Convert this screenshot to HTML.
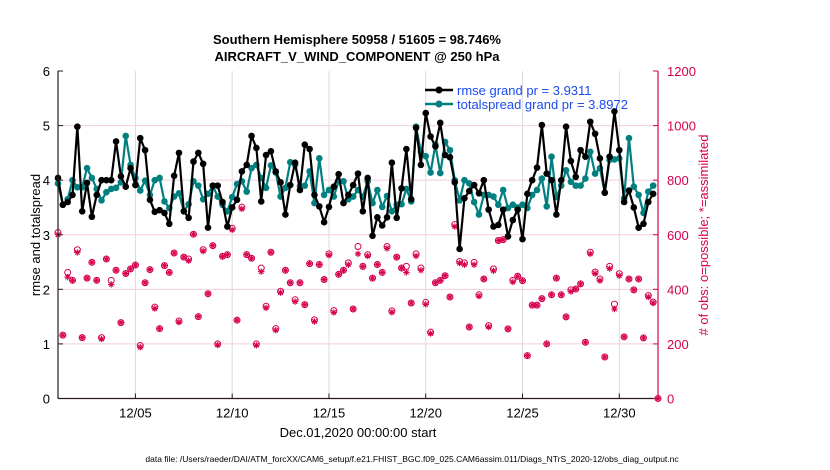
<!DOCTYPE html>
<html><head><meta charset="utf-8"><style>
html,body{margin:0;padding:0;background:#fff;}
svg{display:block;font-family:"Liberation Sans",sans-serif;}
</style></head><body>
<svg id="chart" width="830" height="470" viewBox="0 0 830 470" xmlns="http://www.w3.org/2000/svg">
<text x="357" y="44" text-anchor="middle" font-size="13" font-weight="bold">Southern Hemisphere 50958 / 51605 = 98.746%</text>
<text x="357" y="61" text-anchor="middle" font-size="13" font-weight="bold">AIRCRAFT_V_WIND_COMPONENT @ 250 hPa</text>
<g id="grid"></g>
<g id="marks"></g>
<g id="axes"></g>
<text transform="translate(40,235) rotate(-90)" text-anchor="middle" font-size="13">rmse and totalspread</text>
<text transform="translate(708,235) rotate(-90)" text-anchor="middle" font-size="13" fill="#d6004f"># of obs: o=possible; *=assimilated</text>
<text x="358" y="437" text-anchor="middle" font-size="13">Dec.01,2020 00:00:00 start</text>
<text x="412" y="462" text-anchor="middle" font-size="8.5">data file: /Users/raeder/DAI/ATM_forcXX/CAM6_setup/f.e21.FHIST_BGC.f09_025.CAM6assim.011/Diags_NTrS_2020-12/obs_diag_output.nc</text>
<g>
<line x1="425" y1="90" x2="453" y2="90" stroke="#000" stroke-width="2.5"/>
<circle cx="439" cy="90" r="3.5" fill="#000"/>
<text x="457" y="95" font-size="13" fill="#1a4cf0">rmse grand pr = 3.9311</text>
<line x1="425" y1="104" x2="453" y2="104" stroke="#008080" stroke-width="2.5"/>
<circle cx="439" cy="104" r="3.5" fill="#008080"/>
<text x="457" y="109" font-size="13" fill="#1a4cf0">totalspread grand pr = 3.8972</text>
</g>
</svg>
<script>
const rmse=[4.04,3.55,3.6,3.73,4.98,3.43,3.95,3.33,3.73,4.0,4.0,4.0,4.71,4.07,3.88,4.22,3.91,4.77,4.55,3.64,3.42,3.45,3.40,3.2,4.08,4.5,3.43,3.31,4.34,4.5,4.3,3.13,3.9,3.9,3.6,3.15,3.5,3.64,4.16,4.28,4.81,
4.59,3.61,4.46,4.53,4.16,3.96,3.37,3.91,4.32,3.82,4.65,4.57,3.73,3.52,3.23,3.51,3.88,4.11,3.58,3.73,3.91,4.12,3.43,4.04,2.98,3.32,3.17,3.32,4.32,3.31,3.85,4.57,3.65,4.96,4.28,5.23,4.8,4.62,5.05,4.46,4.42,3.96,2.74,
3.67,3.8,3.91,3.76,4.0,3.46,3.15,3.18,3.46,2.97,3.27,3.46,2.92,3.75,4.0,4.23,5.01,4.12,4.0,3.37,4.0,4.98,4.35,4.06,4.55,4.43,5.07,4.85,4.4,3.77,4.43,5.26,4.55,3.6,3.81,3.5,3.13,3.2,3.6,3.75];
const spread=[3.94,3.55,3.65,4.0,3.87,3.87,4.22,4.04,3.84,3.63,3.78,3.84,3.86,3.96,4.81,4.28,4.04,3.81,3.99,3.73,4.0,4.04,3.61,3.49,3.7,3.76,3.43,3.56,3.98,3.9,3.65,3.75,3.9,3.7,3.55,3.43,3.69,3.93,3.98,3.79,4.22,
4.28,4.04,3.86,4.27,4.14,3.7,3.86,4.33,4.28,3.89,3.9,4.16,3.58,4.4,3.73,3.82,3.7,3.98,3.98,3.65,3.7,3.82,3.7,3.98,3.58,3.82,3.51,3.71,3.43,3.55,3.56,3.84,3.61,4.98,4.52,4.44,4.14,4.65,4.13,4.7,4.55,4.0,3.63,
4.0,3.94,3.6,3.37,3.73,3.73,3.7,3.55,3.82,3.49,3.55,3.5,3.55,3.49,3.73,3.82,4.03,3.52,4.43,3.69,3.9,4.18,3.97,3.9,3.9,4.03,4.52,4.12,4.22,3.77,4.37,4.38,4.4,3.67,4.77,3.88,3.73,3.4,3.79,3.9];
const obsPossible=[608,232,462,433,545,223,441,499,433,223,511,433,470,278,458,475,489,194,424,472,335,256,487,462,533,284,518,511,602,300,545,384,560,200,521,527,624,287,701,527,514,
200,478,338,536,256,393,470,424,362,424,344,494,288,491,436,530,322,455,470,497,328,557,484,527,441,491,462,557,321,518,478,484,350,530,478,352,243,424,433,450,372,637,502,
497,262,499,380,438,267,475,579,582,255,433,448,432,157,342,342,366,200,380,441,380,299,398,401,420,206,536,463,438,152,484,346,457,226,438,398,438,222,377,353,0];
const obsAssim=[600,232,445,433,535,223,441,499,433,218,511,418,470,278,458,475,489,188,424,472,330,256,487,462,533,280,518,505,602,300,540,384,560,196,521,527,618,287,695,527,514,
195,465,332,536,250,388,470,424,355,424,344,494,282,491,436,525,315,455,470,490,328,530,484,522,441,491,462,550,316,518,478,462,350,522,470,345,238,424,433,450,372,630,496,
490,262,490,375,438,262,468,579,582,255,427,448,432,157,342,342,366,200,380,441,380,299,392,401,420,206,530,458,432,152,476,328,450,226,438,398,438,222,372,350,0];
const xTickDays=[4,9,14,19,24,29];
const xTickLabels=["12/05","12/10","12/15","12/20","12/25","12/30"];
const yLeftTicks=[0,1,2,3,4,5,6];
const yRightTicks=[0,200,400,600,800,1000,1200];

const NS="http://www.w3.org/2000/svg";
const X0=58,X1=658,YB=398.5,YT=71;
const xs=d=>X0+(d/31)*(X1-X0);
const yL=v=>YB-(v/6)*(YB-YT);
const yR=v=>YB-(v/1200)*(YB-YT);
const PINK="#d6004f";
function mk(tag,attrs,parent){const e=document.createElementNS(NS,tag);for(const k in attrs)e.setAttribute(k,attrs[k]);parent.appendChild(e);return e;}
const grid=document.getElementById('grid'),marks=document.getElementById('marks'),axes=document.getElementById('axes');

yRightTicks.forEach((t,i)=>{if(i===0||i===yRightTicks.length-1)return;
 const l=mk('line',{x1:X0,x2:X1,y1:yR(t),y2:yR(t),stroke:'#f3cddd','stroke-width':1},grid);
 
 });
xTickDays.forEach(d=>{
 const l=mk('line',{x1:xs(d),x2:xs(d),y1:YT,y2:YB,stroke:'#dcdcdc','stroke-width':1},grid);
 
 });

obsPossible.forEach((v,i)=>{const x=xs(i*0.25),y=yR(v);
 const c=mk('circle',{cx:x,cy:y,r:3,fill:'none',stroke:PINK,'stroke-width':1},marks);
 
 });
obsAssim.forEach((v,i)=>{const x=xs(i*0.25),y=yR(v);
 const g=mk('g',{stroke:PINK,'stroke-width':1.1},marks);
 
 
 const r=3.2;
 mk('line',{x1:x-r,x2:x+r,y1:y,y2:y},g);mk('line',{x1:x,x2:x,y1:y-r,y2:y+r},g);
 mk('line',{x1:x-r*0.7,x2:x+r*0.7,y1:y-r*0.7,y2:y+r*0.7},g);mk('line',{x1:x-r*0.7,x2:x+r*0.7,y1:y+r*0.7,y2:y-r*0.7},g);});

function series(arr,color,name){
 const pts=arr.map((v,i)=>xs(i*0.25).toFixed(2)+','+yL(v).toFixed(2)).join(' ');
 const p=mk('polyline',{points:pts,fill:'none',stroke:color,'stroke-width':2.2,'stroke-linejoin':'round'},marks);
 
 
 arr.forEach((v,i)=>{const c=mk('circle',{cx:xs(i*0.25),cy:yL(v),r:3.3,fill:color},marks);
  
  });
}
series(spread,'#008080','totalspread');
series(rmse,'#000000','rmse');

let a=mk('line',{x1:X0,x2:X0,y1:YT,y2:YB,stroke:'#2a1a1a','stroke-width':1.2},axes);


a=mk('line',{x1:X0,x2:X1,y1:YB,y2:YB,stroke:'#2a1a1a','stroke-width':1.2},axes);


a=mk('line',{x1:X1,x2:X1,y1:YT,y2:YB,stroke:PINK,'stroke-width':1.2},axes);


yLeftTicks.forEach(t=>{
 mk('line',{x1:X0,x2:X0+5,y1:yL(t),y2:yL(t),stroke:'#2a1a1a'},axes);
 const tx=mk('text',{x:X0-8,y:yL(t)+5,'text-anchor':'end','font-size':13},axes);
 tx.textContent=t;
 
 });
yRightTicks.forEach(t=>{
 mk('line',{x1:X1-5,x2:X1,y1:yR(t),y2:yR(t),stroke:PINK},axes);
 const tx=mk('text',{x:X1+9,y:yR(t)+5,'font-size':13,fill:PINK},axes);
 tx.textContent=t;
 
 });
xTickDays.forEach((d,i)=>{
 mk('line',{x1:xs(d),x2:xs(d),y1:YB-5,y2:YB,stroke:'#2a1a1a'},axes);
 const tx=mk('text',{x:xs(d),y:YB+19,'text-anchor':'middle','font-size':13},axes);
 tx.textContent=xTickLabels[i];
 
 });
</script>
</body></html>
